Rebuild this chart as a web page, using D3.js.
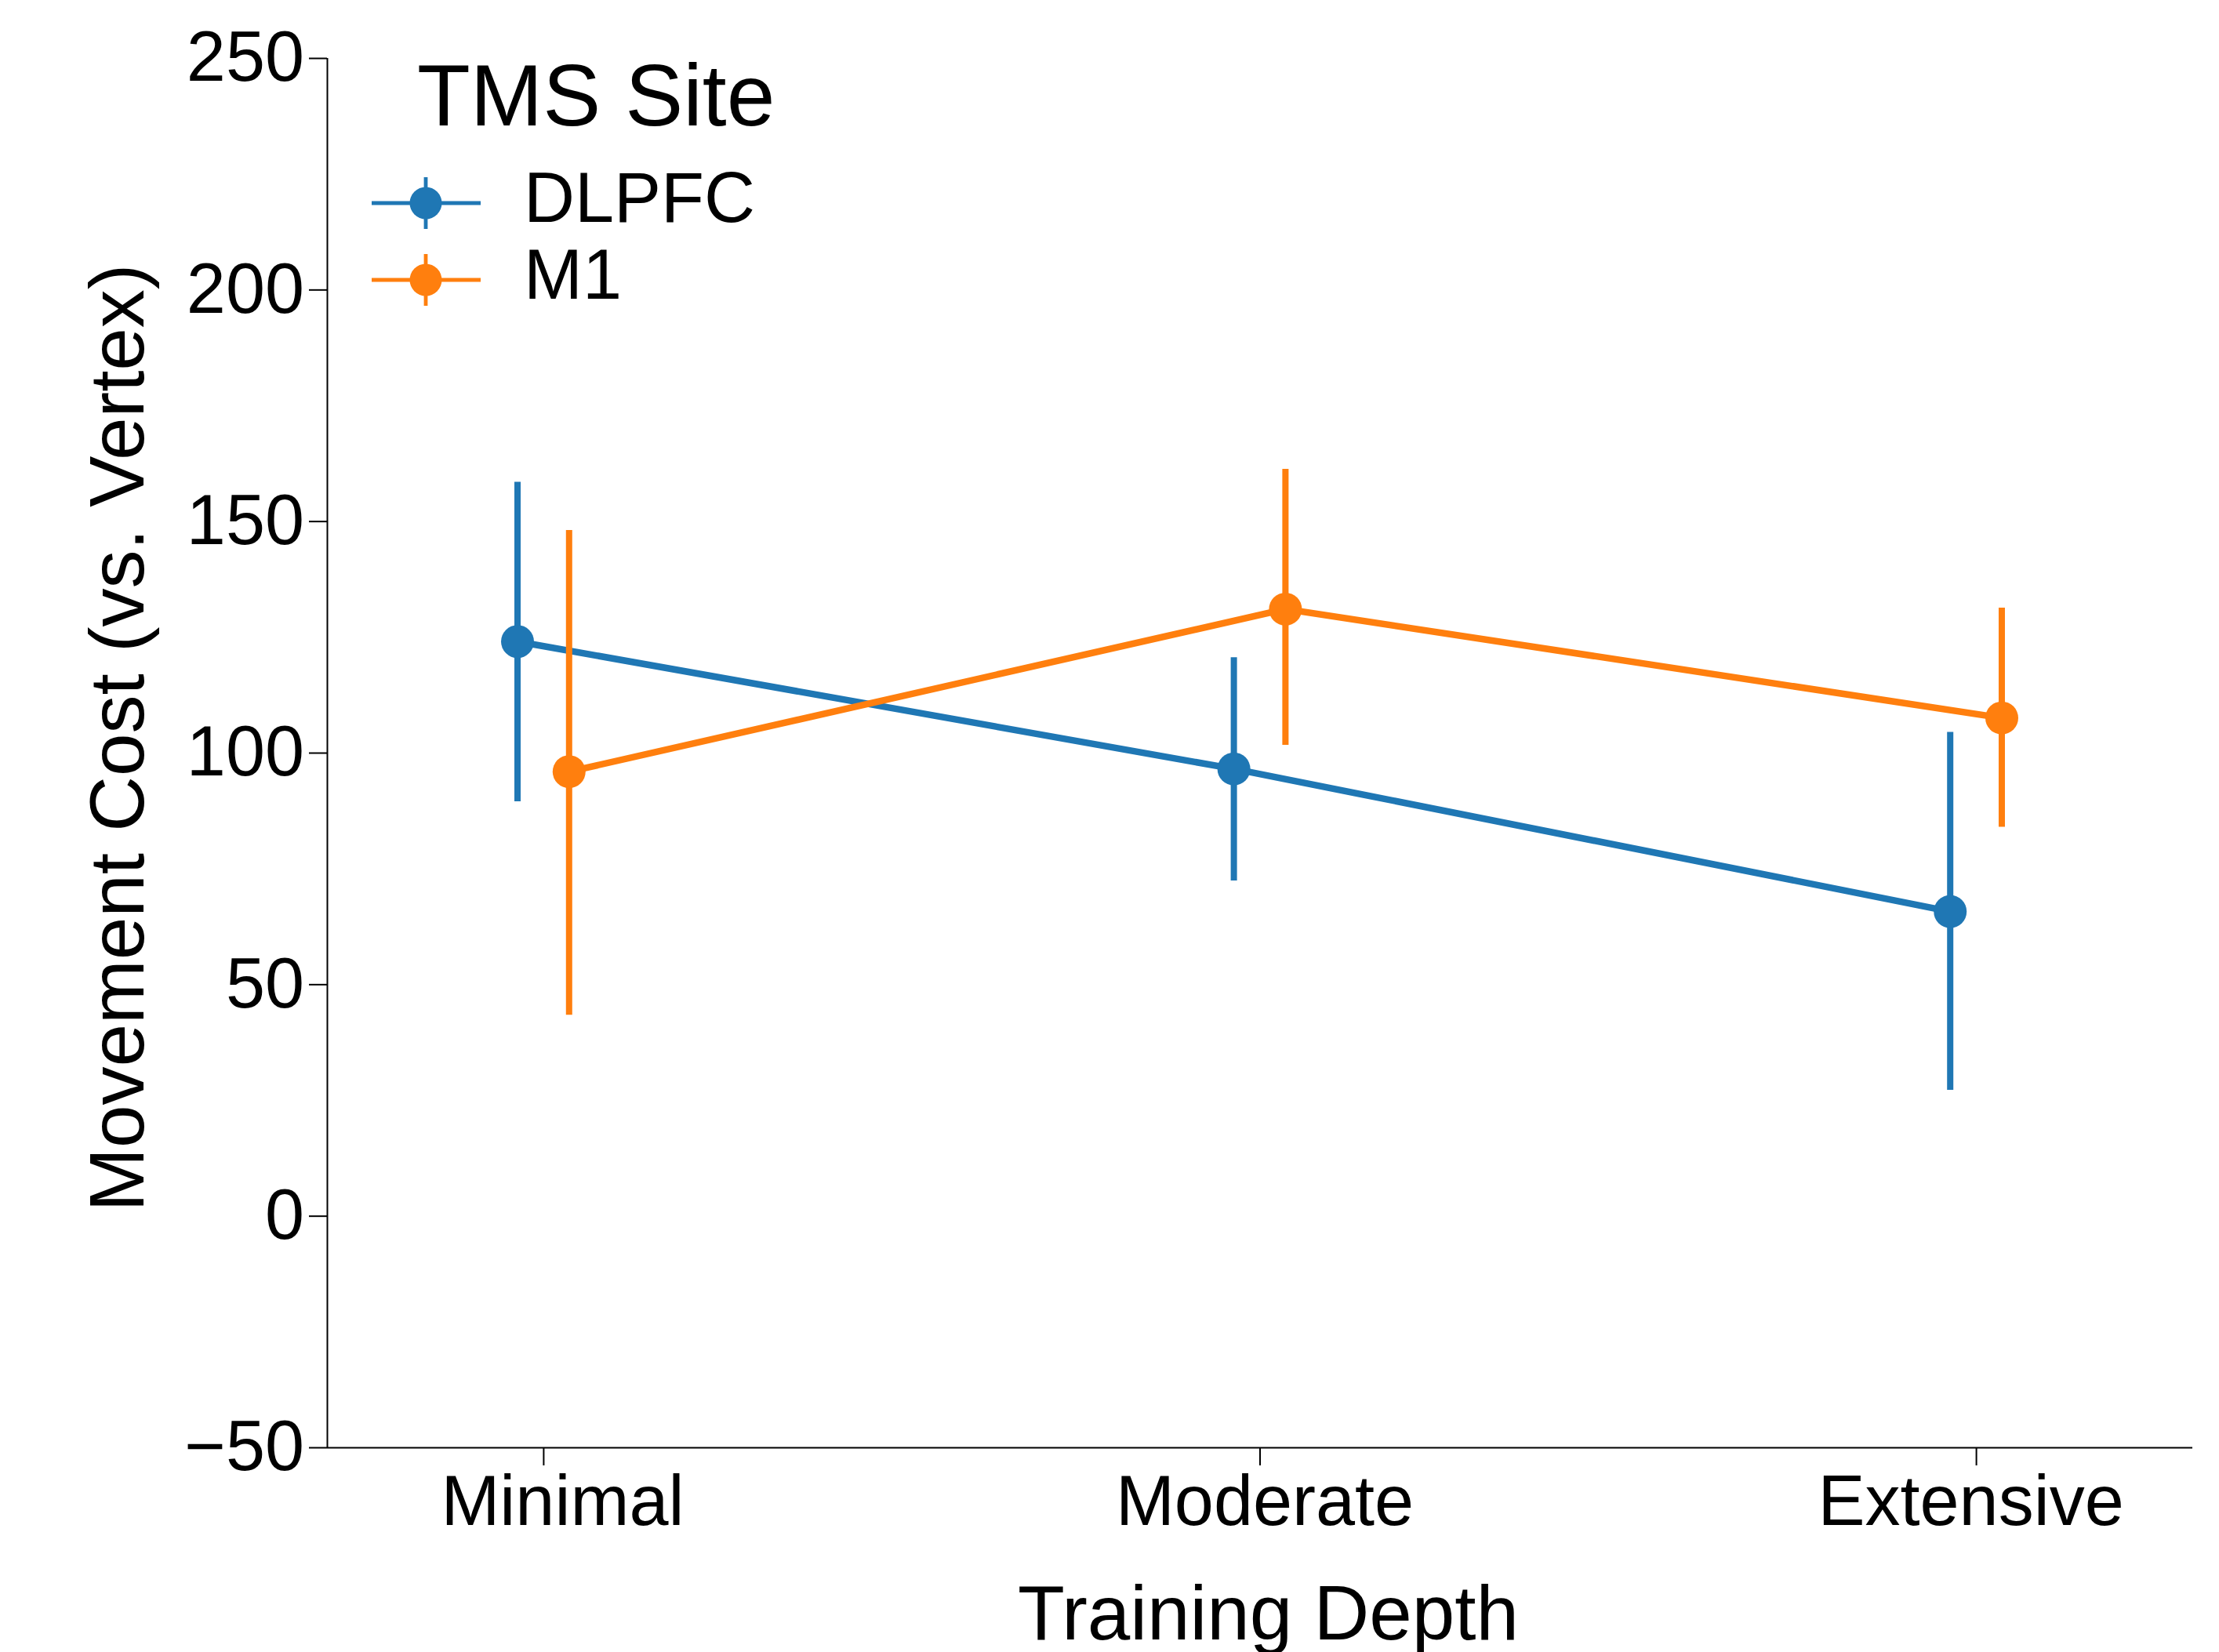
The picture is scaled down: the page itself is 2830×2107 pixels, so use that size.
<!DOCTYPE html>
<html>
<head>
<meta charset="utf-8">
<script src="https://cdn.jsdelivr.net/npm/d3@7"></script>
<style>
  html, body { margin: 0; padding: 0; background: #fff; }
  text { font-family: "Liberation Sans", Arial, sans-serif; fill: #000; }
</style>
</head>
<body>
<svg id="chart" width="2830" height="2107"></svg>
<script>
/* Chart data */
var depths = ["Minimal", "Moderate", "Extensive"];
var sites = ["DLPFC", "M1"];
var siteColors = ["#1f77b4", "#ff7f0e"];
var dlpfcMean = [124.0, 96.5, 65.7];
var dlpfcLow = [89.5, 72.4, 27.2];
var dlpfcHigh = [158.5, 120.6, 104.5];
var m1Mean = [95.9, 131.0, 107.5];
var m1Low = [43.4, 101.7, 84.0];
var m1High = [148.1, 161.3, 131.3];
var yTicks = [-50, 0, 50, 100, 150, 200, 250];

/* Layout (plot box in pixels) */
var plotLeft = 417, plotRight = 2796, plotTop = 74, plotBottom = 1846;
var lineW = 8.5, errW = 8, markerR = 21, dodge = 0.036;
var legendLineW = 4.8, legendR = 20.5;
// small horizontal nudge of the category labels, as in the reference
var labelShift = [24, 6, -7];

var svg = d3.select("#chart");

var x = d3.scaleLinear().domain([-0.302, 2.302]).range([plotLeft, plotRight]);
var y = d3.scaleLinear().domain([-50, 250]).range([plotBottom, plotTop]);

/* Build a row per series from the named arrays */
var series = [
	{ name: sites[0], color: siteColors[0], mean: dlpfcMean, low: dlpfcLow, high: dlpfcHigh, off: -dodge },
	{ name: sites[1], color: siteColors[1], mean: m1Mean, low: m1Low, high: m1High, off: dodge }
];

// Y axis
var yAxis = svg.append("g")
	.attr("transform", "translate(" + plotLeft + ",0)")
	.call(d3.axisLeft(y).tickValues(yTicks).tickSize(23).tickPadding(6)
		.tickFormat(function(d) { return d < 0 ? "\u2212" + Math.abs(d) : d; }));

// X axis
var xAxis = svg.append("g")
	.attr("transform", "translate(0," + plotBottom + ")")
	.call(d3.axisBottom(x).tickValues([0, 1, 2]).tickSize(23).tickPadding(12)
		.tickFormat(function(d) { return depths[d]; }));

[yAxis, xAxis].forEach(function(ax) {
	ax.select(".domain").attr("stroke", "#000").attr("stroke-width", 2);
	ax.selectAll(".tick line").attr("stroke", "#000").attr("stroke-width", 2);
	ax.selectAll(".tick text").attr("font-size", 90).attr("fill", "#000")
		.attr("font-family", "Liberation Sans, Arial, sans-serif");
});
xAxis.selectAll(".tick text").attr("dx", function(d) { return labelShift[d]; });
yAxis.select(".domain").attr("d", "M0.5," + plotBottom + "V" + plotTop);
xAxis.select(".domain").attr("d", "M" + plotLeft + ",0.5H" + plotRight);

// Axis labels
svg.append("text")
	.attr("x", (plotLeft + plotRight) / 2 + 11)
	.attr("y", 2091)
	.attr("text-anchor", "middle")
	.attr("font-size", 98)
	.text("Training Depth");

svg.append("text")
	.attr("transform", "translate(183,941) rotate(-90)")
	.attr("text-anchor", "middle")
	.attr("font-size", 98)
	.text("Movement Cost (vs. Vertex)");

/* Draw each series: error bars, connecting line, markers */
series.forEach(function(s) {
	var g = svg.append("g");
	var idx = d3.range(depths.length);

	g.selectAll(".err")
		.data(idx)
		.enter().append("line")
		.attr("class", "err")
		.attr("x1", function(i) { return x(i + s.off); })
		.attr("x2", function(i) { return x(i + s.off); })
		.attr("y1", function(i) { return y(s.low[i]); })
		.attr("y2", function(i) { return y(s.high[i]); })
		.attr("stroke", s.color)
		.attr("stroke-width", errW);

	var line = d3.line()
		.x(function(i) { return x(i + s.off); })
		.y(function(i) { return y(s.mean[i]); });

	g.append("path")
		.datum(idx)
		.attr("d", line)
		.attr("fill", "none")
		.attr("stroke", s.color)
		.attr("stroke-width", lineW);

	g.selectAll("circle")
		.data(idx)
		.enter().append("circle")
		.attr("cx", function(i) { return x(i + s.off); })
		.attr("cy", function(i) { return y(s.mean[i]); })
		.attr("r", markerR)
		.attr("fill", s.color);
});

/* Legend */
var legend = svg.append("g");
legend.append("text")
	.attr("x", 532)
	.attr("y", 160)
	.attr("font-size", 111)
	.text("TMS Site");

series.forEach(function(s, k) {
	var cy = 259 + k * 98;
	legend.append("line")
		.attr("x1", 474).attr("x2", 613)
		.attr("y1", cy).attr("y2", cy)
		.attr("stroke", s.color).attr("stroke-width", legendLineW);
	legend.append("line")
		.attr("x1", 543).attr("x2", 543)
		.attr("y1", cy - 33).attr("y2", cy + 33)
		.attr("stroke", s.color).attr("stroke-width", legendLineW);
	legend.append("circle")
		.attr("cx", 543).attr("cy", cy)
		.attr("r", legendR)
		.attr("fill", s.color);
	legend.append("text")
		.attr("x", 668)
		.attr("y", cy + 24)
		.attr("font-size", 90)
		.text(s.name);
});
</script>
</body>
</html>
